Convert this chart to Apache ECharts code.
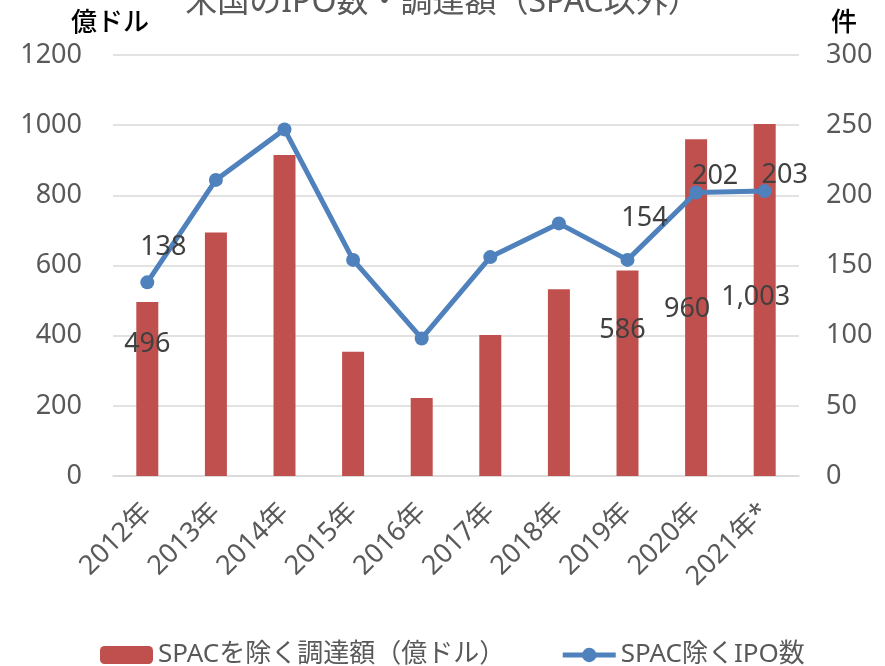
<!DOCTYPE html>
<html><head><meta charset="utf-8">
<script src="https://cdn.jsdelivr.net/npm/echarts@6/dist/echarts.min.js"></script>
<style>html,body{margin:0;padding:0;background:#fff}#c{width:885px;height:666px}</style>
</head><body><div id="c"></div>
<script>
const categories = ['2012年','2013年','2014年','2015年','2016年','2017年','2018年','2019年','2020年','2021年*'];
const amountValues = [496, 694, 915, 354, 222, 402, 532, 586, 960, 1003];
const ipoCounts = [138, 211, 247, 154, 98, 156, 180, 154, 202, 203];
const leftTicks = [0, 200, 400, 600, 800, 1000, 1200];
const rightTicks = [0, 50, 100, 150, 200, 250, 300];
const barLabelShown = [0, 7, 8, 9];
const lineLabelShown = [0, 7, 8, 9];

const FONT = '"Noto Sans","Noto Sans CJK JP",sans-serif';
const barLabelPos = {0:[0,42], 7:[-5,60], 8:[-9,170], 9:[-9,173]};
const lineLabelOff = {0:[16,-35], 7:[17,-42], 8:[19,-16], 9:[20,-16]};

const barData = amountValues.map((v,i)=>{
  const o = {value:v};
  if (barLabelShown.includes(i)) {
    const p = barLabelPos[i];
    o.label = {show:true, position:['50%', p[1]], offset:[p[0],0], align:'center', verticalAlign:'middle'};
  }
  return o;
});
const lineData = ipoCounts.map((v,i)=>{
  const o = {value:v};
  if (lineLabelShown.includes(i)) {
    o.label = {show:true, position:'inside', offset:lineLabelOff[i]};
  }
  return o;
});

const chart = echarts.init(document.getElementById('c'), null, {renderer:'canvas'});
chart.setOption({
  animation:false,
  textStyle:{fontFamily:FONT},
  title:{text:'米国のIPO数・調達額（SPAC以外）', left:'center', top:-18,
    textStyle:{fontSize:32, fontWeight:'normal', color:'#595959', fontFamily:FONT}},
  graphic:[
    {type:'text', left:71, top:11, style:{text:'億ドル', fontSize:26, fontWeight:500, fill:'#000', fontFamily:FONT}},
    {type:'text', left:831, top:11, style:{text:'件', fontSize:26, fontWeight:500, fill:'#000', fontFamily:FONT}}
  ],
  grid:{left:113, right:86, top:55, bottom:190},
  legend:{left:95, top:637, itemWidth:53, itemHeight:18, itemGap:55,
    textStyle:{fontSize:26, color:'#595959', fontFamily:FONT},
    data:[{name:'SPACを除く調達額（億ドル）'},
          {name:'SPAC除くIPO数', lineStyle:{width:5}, itemStyle:{color:'#4F81BD'}}]},
  xAxis:{type:'category', data:categories, boundaryGap:true,
    axisLine:{show:true, lineStyle:{color:'#D9D9D9', width:1.5}}, axisTick:{show:false},
    axisLabel:{rotate:45, fontSize:27, color:'#595959', margin:32, interval:0, fontFamily:FONT}},
  yAxis:[
    {type:'value', min:leftTicks[0], max:leftTicks[leftTicks.length-1], interval:200,
      axisLine:{show:false}, axisTick:{show:false},
      splitLine:{lineStyle:{color:'#D9D9D9', width:1.5}},
      axisLabel:{fontSize:27, color:'#595959', margin:31, fontFamily:FONT, formatter:v=>String(v)}},
    {type:'value', min:rightTicks[0], max:rightTicks[rightTicks.length-1], interval:50,
      axisLine:{show:false}, axisTick:{show:false}, splitLine:{show:false},
      axisLabel:{fontSize:27, color:'#595959', margin:27, fontFamily:FONT, formatter:v=>String(v)}}
  ],
  series:[
    {name:'SPACを除く調達額（億ドル）', type:'bar', yAxisIndex:0, data:barData, barWidth:22,
      itemStyle:{color:'#C0504D'},
      label:{show:false, fontSize:27, color:'#404040', fontFamily:FONT,
        formatter:p=>p.value.toLocaleString('en-US')}},
    {name:'SPAC除くIPO数', type:'line', yAxisIndex:1, data:lineData, z:5,
      symbol:'circle', symbolSize:14, lineStyle:{color:'#4F81BD', width:5},
      itemStyle:{color:'#4F81BD'},
      label:{show:false, fontSize:27, color:'#404040', fontFamily:FONT}}
  ]
});
</script></body></html>
